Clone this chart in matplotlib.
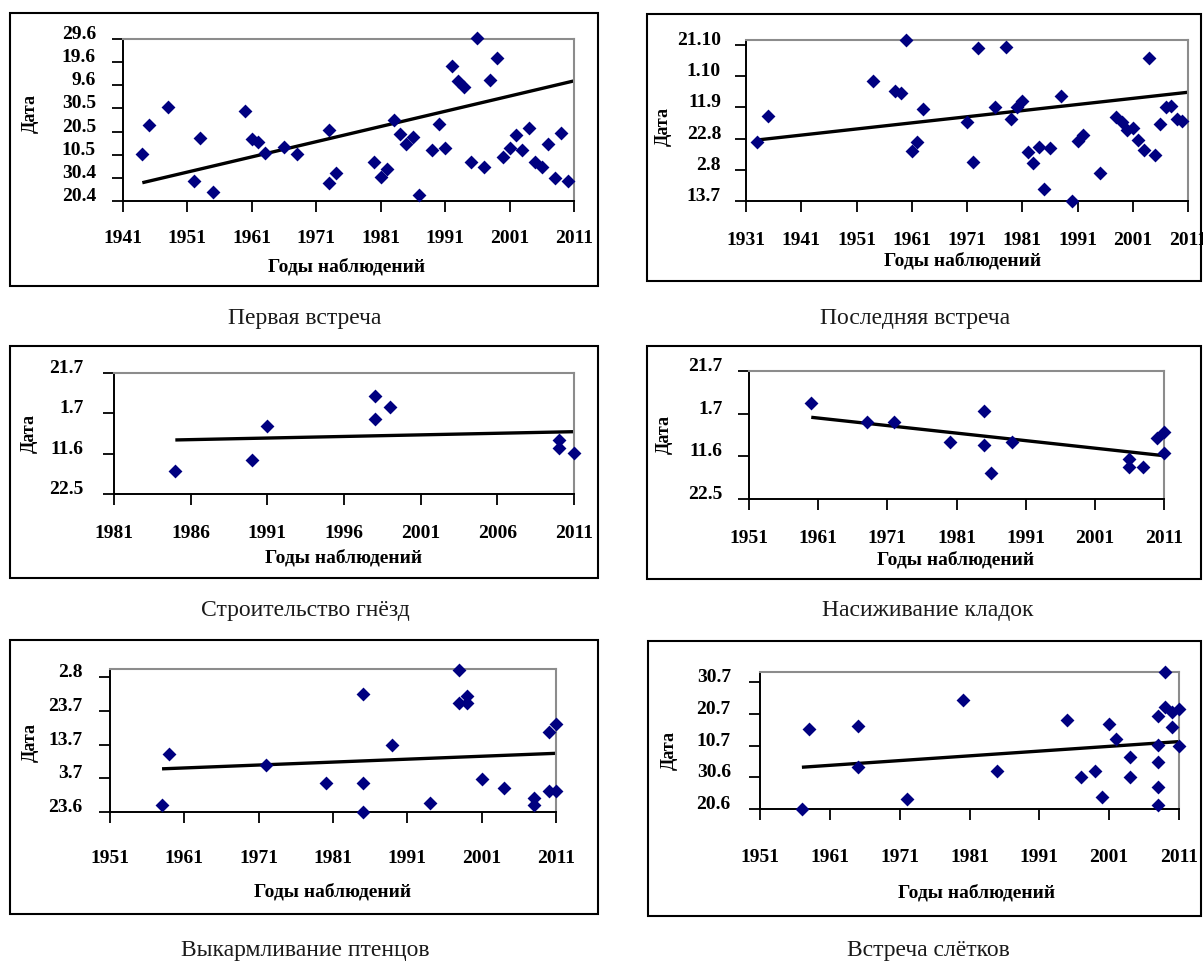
import matplotlib
matplotlib.use('Agg')
import matplotlib.pyplot as plt
from matplotlib.patches import Rectangle

W, H = 1203, 963

# dates are stored as day of year (non-leap year), years of observation on x
first_years = [1944, 1945, 1948, 1952, 1953, 1955, 1960, 1961, 1962, 1963, 1966, 1968, 1973, 1973, 1974,
               1980, 1981, 1982, 1983, 1984, 1985, 1986, 1987, 1989, 1990, 1991, 1992, 1993, 1994, 1995,
               1996, 1997, 1998, 1999, 2000, 2001, 2002, 2003, 2004, 2005, 2006, 2007, 2008, 2009, 2010]
first_days = [130.2, 142.7, 150.8, 118.6, 137.4, 113.9, 148.9, 136.8, 135.3, 130.6, 133.5, 130.2, 140.8, 117.9, 122,
              126.7, 120.5, 124, 145, 138.8, 134.6, 137.5, 112.6, 132, 143.4, 132.8, 168.3, 161.9, 159.4, 126.7,
              180.6, 124.8, 162.3, 171.6, 128.9, 132.8, 138.7, 132, 141.4, 126.7, 124.8, 134.6, 120.1, 139.4, 118.6]
first_trend = [117.9, 161.9]
first_ticks = ['20.4', '30.4', '10.5', '20.5', '30.5', '9.6', '19.6', '29.6']

last_years = [1933, 1935, 1954, 1958, 1959, 1960, 1961, 1962, 1963, 1971, 1972, 1973, 1976, 1978, 1979,
              1980, 1981, 1982, 1983, 1984, 1985, 1986, 1988, 1990, 1991, 1992, 1995, 1998, 1999, 2000,
              2001, 2002, 2003, 2004, 2005, 2006, 2007, 2008, 2009, 2010]
last_days = [232, 248.7, 270.7, 264.7, 263.4, 297, 226.3, 232, 253, 244.4, 219.2, 291.9, 254, 292.9, 246.6,
             254.5, 258.3, 225.4, 218.1, 228.8, 201.5, 227.8, 261.3, 194, 232.7, 236.3, 212.2, 247.6, 244.4, 239.5,
             240.6, 233.1, 226.7, 285.5, 223.5, 243.4, 254, 254.9, 246.6, 245.5]
last_trend = [233.1, 263.7]
last_ticks = ['13.7', '2.8', '22.8', '11.9', '1.10', '21.10']

nest_years = [1985, 1990, 1991, 1998, 1998, 1999, 2010, 2010, 2011]
nest_days = [153.2, 158.9, 175.9, 190.7, 179.2, 184.9, 168.8, 164.7, 162.2]
nest_trend = [168.8, 172.9]
nest_ticks = ['22.5', '11.6', '1.7', '21.7']

incub_years = [1960, 1968, 1972, 1980, 1985, 1985, 1986, 1989, 2006, 2006, 2008, 2010, 2011, 2011]
incub_days = [186.9, 178, 178.3, 168.6, 183.3, 167.1, 154.2, 168.5, 160.9, 157.1, 157.1, 170.8, 173.2, 163.5]
incub_trend = [180.3, 162.3]
incub_ticks = ['22.5', '11.6', '1.7', '21.7']

feed_years = [1958, 1959, 1972, 1980, 1985, 1985, 1985, 1989, 1994, 1998, 1998,
              1999, 1999, 2001, 2004, 2008, 2008, 2010, 2010, 2011, 2011]
feed_days = [176.2, 191.2, 187.8, 182.7, 209, 182.7, 174, 194, 176.8, 216.2, 206.3,
             208.5, 206.3, 183.9, 181.2, 178.2, 176.2, 197.8, 180.2, 200.2, 180.2]
feed_trend = [186.8, 191.4]
feed_ticks = ['23.6', '3.7', '13.7', '23.7', '2.8']

fledge_years = [1957, 1958, 1965, 1965, 1972, 1980, 1985, 1995, 1997, 1999, 2000, 2001, 2002,
                2004, 2004, 2008, 2008, 2008, 2008, 2008, 2009, 2009, 2010, 2010, 2011, 2011]
fledge_days = [171, 196.2, 197.3, 184.2, 174.2, 205.4, 182.9, 199.1, 181.1, 182.9, 174.9, 197.8, 193,
               187.3, 181.1, 200.5, 191.2, 185.9, 177.8, 172.3, 214.2, 203.1, 201.7, 197, 202.5, 191]
fledge_trend = [184.2, 192.3]
fledge_ticks = ['20.6', '30.6', '10.7', '20.7', '30.7']

titles = ['Первая встреча', 'Последняя встреча', 'Строительство гнёзд',
          'Насиживание кладок', 'Выкармливание птенцов', 'Встреча слётков']

CUM = [0, 31, 59, 90, 120, 151, 181, 212, 243, 273, 304, 334]


def doy(s):
    d, m = s.split('.')
    return CUM[int(m) - 1] + int(d)


# layout in pixels: box, axes (l, r, t, b), ylabel xy, xlabel xy, caption xy, x pad, y pad
panels = [
    dict(x=first_years, y=first_days, tr=first_trend, ticks=first_ticks, xlim=(1941, 2011), xstep=10, ymax=180,
         box=(10, 13, 598, 286), ax=(123, 574, 39, 201), yl=(30, 113), xl=(347, 267), cap=(305, 318), xpad=13, ypad=11.5),
    dict(x=last_years, y=last_days, tr=last_trend, ticks=last_ticks, xlim=(1931, 2011), xstep=10, ymax=297.2,
         box=(647, 14, 1201, 281), ax=(746, 1188, 40, 201), yl=(663, 127), xl=(963, 261), cap=(915, 318), xpad=14, ypad=10),
    dict(x=nest_years, y=nest_days, tr=nest_trend, ticks=nest_ticks, xlim=(1981, 2011), xstep=5, ymax=202,
         box=(10, 346, 598, 578), ax=(114, 574, 373, 494), yl=(29, 433), xl=(344, 558), cap=(305, 610), xpad=14, ypad=14),
    dict(x=incub_years, y=incub_days, tr=incub_trend, ticks=incub_ticks, xlim=(1951, 2011), xstep=10, ymax=202,
         box=(647, 346, 1201, 579), ax=(749, 1164, 371, 499), yl=(664, 435), xl=(956, 560), cap=(928, 610), xpad=14, ypad=11),
    dict(x=feed_years, y=feed_days, tr=feed_trend, ticks=feed_ticks, xlim=(1951, 2011), xstep=10, ymax=216.4,
         box=(10, 640, 598, 914), ax=(110, 556, 669, 812), yl=(30, 742), xl=(333, 892), cap=(305, 950), xpad=19, ypad=12),
    dict(x=fledge_years, y=fledge_days, tr=fledge_trend, ticks=fledge_ticks, xlim=(1951, 2011), xstep=10, ymax=214.3,
         box=(648, 641, 1201, 916), ax=(760, 1179, 672, 809), yl=(669, 750), xl=(977, 893), cap=(928, 950), xpad=21, ypad=13),
]

plt.rcParams['font.family'] = ['Liberation Serif', 'DejaVu Serif']

fig = plt.figure(figsize=(W / 100, H / 100), dpi=100)

for p, title in zip(panels, titles):
    bx0, by0, bx1, by1 = p['box']
    fig.patches.append(Rectangle((bx0 / W, 1 - by1 / H), (bx1 - bx0) / W, (by1 - by0) / H,
                                 transform=fig.transFigure, fill=False, edgecolor='black', linewidth=1.5))

    l, r, t, b = p['ax']
    ax = fig.add_axes([l / W, 1 - b / H, (r - l) / W, (b - t) / H])
    ax.scatter(p['x'], p['y'], marker='D', s=50, color='#000080', zorder=3, clip_on=False, linewidths=0)
    ax.plot([min(p['x']), p['xlim'][1] if max(p['x']) >= p['xlim'][1] - 1 else max(p['x'])], p['tr'],
            color='black', linewidth=2.4, solid_capstyle='butt', zorder=2)

    yt = [doy(s) for s in p['ticks']]
    ax.set_ylim(yt[0], p['ymax'])
    ax.set_xlim(*p['xlim'])
    ax.set_xticks(list(range(p['xlim'][0], p['xlim'][1] + 1, p['xstep'])))
    ax.set_yticks(yt)
    ax.set_yticklabels(p['ticks'])

    ax.tick_params(direction='out', length=8, width=1.3, color='black', labelsize=14)
    ax.tick_params(axis='x', pad=p['xpad'])
    ax.tick_params(axis='y', pad=p['ypad'])
    for lbl in ax.get_xticklabels() + ax.get_yticklabels():
        lbl.set_fontweight('bold')
    for lbl in ax.get_yticklabels():
        lbl.set_verticalalignment('baseline')

    ax.spines['left'].set_linewidth(1.4)
    ax.spines['bottom'].set_linewidth(1.4)
    ax.spines['top'].set_color('#8c8c8c')
    ax.spines['right'].set_color('#8c8c8c')
    ax.spines['top'].set_linewidth(1.5)
    ax.spines['right'].set_linewidth(1.5)

    fig.text(p['yl'][0] / W, 1 - p['yl'][1] / H, 'Дата', rotation=90, ha='center', va='center',
             fontsize=13, fontweight='bold')
    fig.text(p['xl'][0] / W, 1 - p['xl'][1] / H, 'Годы наблюдений', ha='center', va='center',
             fontsize=14, fontweight='bold')
    fig.text(p['cap'][0] / W, 1 - p['cap'][1] / H, title, ha='center', va='center',
             fontsize=17, color='#1a1a1a')

fig.savefig('out.png', dpi=100)
